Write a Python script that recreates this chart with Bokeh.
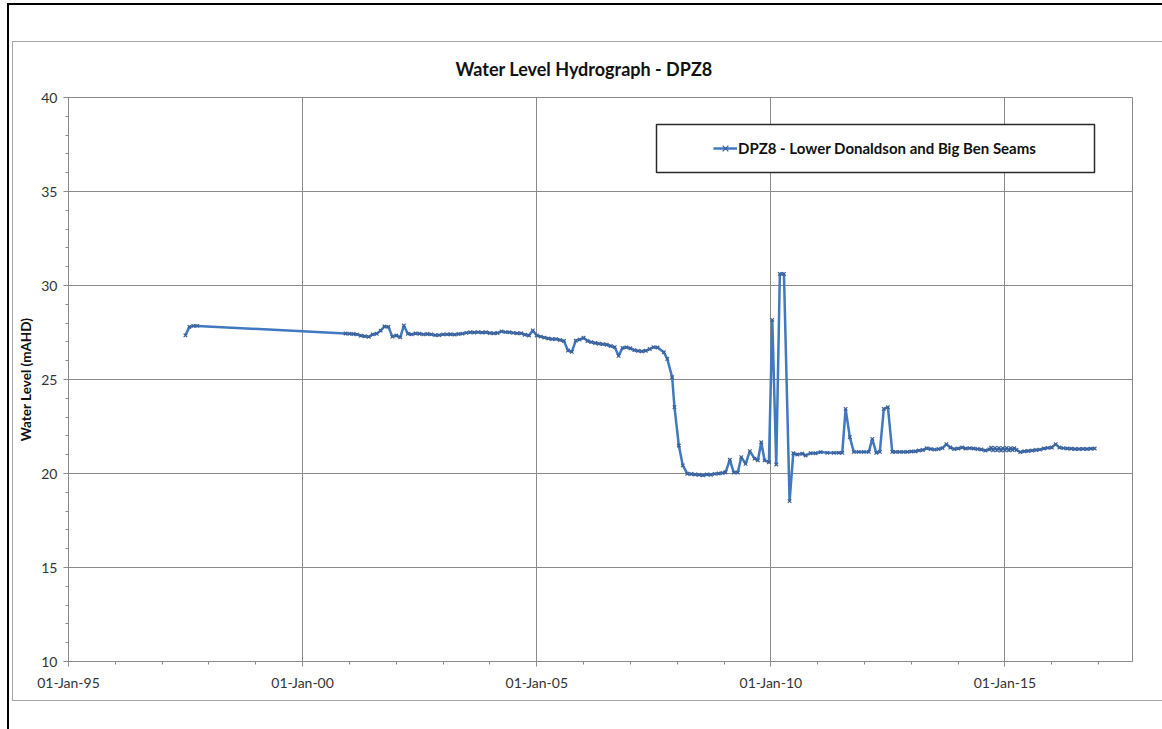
import pandas as pd
from bokeh.plotting import figure
from bokeh.models import (Range1d, FixedTicker, DatetimeTickFormatter, BoxAnnotation,
                          Legend, LegendItem, ColumnDataSource, InlineStyleSheet)
from bokeh.embed import file_html
from bokeh.resources import INLINE

# ---------------- data ----------------
title_text = "Water Level Hydrograph - DPZ8"
series_name = "DPZ8 - Lower Donaldson and Big Ben Seams"
y_title = "Water Level (mAHD)"

dates = [
    "1997-07-01", "1997-08-01", "1997-09-01", "1997-10-01",
    "2000-12-01",
    "2001-01-01", "2001-02-01", "2001-03-01", "2001-04-01", "2001-05-01", "2001-06-01",
    "2001-07-01", "2001-08-01", "2001-09-01", "2001-10-01", "2001-11-01", "2001-12-01",
    "2002-01-01", "2002-02-01", "2002-03-01", "2002-04-01", "2002-05-01", "2002-06-01",
    "2002-07-01", "2002-08-01", "2002-09-01", "2002-10-01", "2002-11-01", "2002-12-01",
    "2003-01-01", "2003-02-01", "2003-03-01", "2003-04-01", "2003-05-01", "2003-06-01",
    "2003-07-01", "2003-08-01", "2003-09-01", "2003-10-01", "2003-11-01", "2003-12-01",
    "2004-01-01", "2004-02-01", "2004-03-01", "2004-04-01", "2004-05-01", "2004-06-01",
    "2004-07-01", "2004-08-01", "2004-09-01", "2004-10-01", "2004-11-01", "2004-12-01",
    "2005-01-01", "2005-02-01", "2005-03-01", "2005-04-01", "2005-05-01", "2005-06-01",
    "2005-07-01", "2005-08-01", "2005-09-01", "2005-10-01", "2005-11-01", "2005-12-01",
    "2006-01-01", "2006-02-01", "2006-03-01", "2006-04-01", "2006-05-01", "2006-06-01",
    "2006-07-01", "2006-08-01", "2006-09-01", "2006-10-01", "2006-11-01", "2006-12-01",
    "2007-01-01", "2007-02-01", "2007-03-01", "2007-04-01", "2007-05-01", "2007-06-01",
    "2007-07-01", "2007-08-01", "2007-09-19", "2007-10-16", "2007-11-23", "2007-12-11",
    "2008-01-14", "2008-02-14", "2008-03-20", "2008-04-20", "2008-05-20", "2008-06-20",
    "2008-07-20", "2008-08-20", "2008-09-20", "2008-10-20", "2008-11-20", "2008-12-20",
    "2009-01-13", "2009-02-15", "2009-03-18", "2009-04-18", "2009-05-15", "2009-06-18",
    "2009-07-21", "2009-08-27", "2009-09-22", "2009-10-18", "2009-11-13", "2009-12-17",
    "2010-01-12", "2010-02-12", "2010-03-12", "2010-04-13", "2010-05-27", "2010-06-25",
    "2010-07-26", "2010-09-03", "2010-09-29", "2010-11-07", "2010-12-16",
    "2011-01-24", "2011-03-17", "2011-05-07", "2011-06-15", "2011-07-12", "2011-08-07",
    "2011-09-09", "2011-10-10", "2011-11-18", "2011-12-27",
    "2012-02-04", "2012-03-02", "2012-04-02", "2012-04-30", "2012-05-31", "2012-07-02",
    "2012-08-05", "2012-09-01", "2012-10-01", "2012-11-01", "2012-12-01",
    "2013-01-01", "2013-02-01", "2013-03-01", "2013-04-01", "2013-05-01", "2013-06-01",
    "2013-07-01", "2013-08-01", "2013-09-01", "2013-10-01", "2013-11-01", "2013-12-01",
    "2014-01-01", "2014-02-01", "2014-03-01", "2014-04-01", "2014-05-01", "2014-06-01",
    "2014-07-01", "2014-08-01", "2014-09-01", "2014-09-15", "2014-10-01", "2014-10-15",
    "2014-11-01", "2014-11-15", "2014-12-01", "2014-12-15",
    "2015-01-01", "2015-01-15", "2015-02-01", "2015-02-15", "2015-03-01", "2015-03-15",
    "2015-04-01", "2015-05-01", "2015-06-01",
    "2015-07-01", "2015-08-01", "2015-09-01", "2015-10-01", "2015-11-01", "2015-12-01",
    "2016-01-01", "2016-02-01", "2016-03-01", "2016-04-01", "2016-05-01", "2016-06-01",
    "2016-07-01", "2016-08-01", "2016-09-01", "2016-10-01", "2016-11-01", "2016-12-01",
]

levels = [
    27.35, 27.80, 27.85, 27.85,
    27.45,
    27.43, 27.42, 27.40, 27.33, 27.30, 27.27,
    27.40, 27.43, 27.60, 27.82, 27.80, 27.28,
    27.34, 27.24, 27.87, 27.43, 27.40, 27.45,
    27.43, 27.40, 27.42, 27.40, 27.36, 27.36,
    27.40, 27.40, 27.41, 27.39, 27.42, 27.44,
    27.48, 27.51, 27.50, 27.52, 27.50, 27.51,
    27.47, 27.46, 27.47, 27.56, 27.52, 27.51,
    27.48, 27.46, 27.46, 27.38, 27.34, 27.61,
    27.34, 27.28, 27.23, 27.18, 27.15, 27.15,
    27.10, 27.05, 26.54, 26.47, 27.07, 27.12,
    27.22, 27.05, 26.99, 26.94, 26.90, 26.88,
    26.85, 26.78, 26.72, 26.26, 26.68, 26.71,
    26.66, 26.56, 26.52, 26.50, 26.53, 26.62,
    26.72, 26.70, 26.45, 26.10, 25.12, 23.53,
    21.49, 20.43, 19.99, 19.97, 19.95, 19.93,
    19.90, 19.95, 19.93, 19.98, 20.00, 20.03,
    20.07, 20.73, 20.05, 20.05, 20.87, 20.51,
    21.19, 20.79, 20.70, 21.66, 20.70, 20.60,
    28.17, 20.48, 30.62, 30.62, 18.53, 21.08,
    21.01, 21.05, 20.96, 21.08, 21.08,
    21.14, 21.10, 21.10, 21.10, 21.10, 23.44,
    21.93, 21.15, 21.15, 21.15,
    21.15, 21.84, 21.10, 21.15, 23.44, 23.53,
    21.15, 21.15, 21.15, 21.15, 21.15,
    21.17, 21.18, 21.22, 21.25, 21.34, 21.30,
    21.27, 21.30, 21.35, 21.56, 21.38, 21.30,
    21.33, 21.38, 21.33, 21.35, 21.33, 21.30,
    21.28, 21.22, 21.28, 21.37, 21.24, 21.36,
    21.23, 21.36, 21.22, 21.35,
    21.24, 21.36, 21.23, 21.35, 21.25, 21.34,
    21.25, 21.14, 21.18,
    21.20, 21.22, 21.25, 21.27, 21.33, 21.36,
    21.38, 21.56, 21.38, 21.35, 21.33, 21.32,
    21.30, 21.30, 21.31, 21.30, 21.32, 21.33,
]

x_start = "1995-01-01"
x_end = "2017-09-22"
major_years = [1995, 2000, 2005, 2010, 2015]
minor_years = list(range(1995, 2018))
y_major = [10, 15, 20, 25, 30, 35, 40]
y_minor = list(range(10, 41))

# ---------------- styles ----------------
FONT = "Lato"
GRID = "#8a8a8a"
LINE = "#4079c0"
MARK = "#3b5f96"


def ms(s):
    return pd.Timestamp(s).value / 1e6


src = ColumnDataSource(dict(x=pd.to_datetime(dates), y=levels))

W, H = 1146, 713
p = figure(width=W, height=H, x_axis_type="datetime",
           x_range=Range1d(ms(x_start), ms(x_end)), y_range=Range1d(10, 40),
           output_backend="svg", toolbar_location=None,
           min_border_left=68, min_border_right=14, min_border_top=97, min_border_bottom=52)

p.background_fill_color = "white"
p.border_fill_color = "white"
p.outline_line_color = GRID
p.outline_line_width = 1

# title
p.title.text = title_text
p.title.align = "left"
p.title.offset = 387
p.title.standoff = 35
p.title.text_font = FONT
p.title.text_font_style = "bold"
p.title.text_font_size = "18px"
p.title.text_color = "#111111"

# axes
p.xaxis.ticker = FixedTicker(ticks=[ms(f"{y}-01-01") for y in major_years],
                             minor_ticks=[ms(f"{y}-01-01") for y in minor_years])
fmt = "%d-%b-%y"
p.xaxis.formatter = DatetimeTickFormatter(years=fmt, months=fmt, days=fmt, hours=fmt,
                                          hourmin=fmt, minutes=fmt, minsec=fmt,
                                          seconds=fmt, milliseconds=fmt, microseconds=fmt)
p.yaxis.ticker = FixedTicker(ticks=y_major, minor_ticks=y_minor)

for ax in (p.xaxis[0], p.yaxis[0]):
    ax.axis_line_color = GRID
    ax.major_tick_line_color = GRID
    ax.minor_tick_line_color = GRID
    ax.major_tick_in = 0
    ax.major_tick_out = 5
    ax.minor_tick_in = 0
    ax.minor_tick_out = 3
    ax.major_label_text_font = FONT
    ax.major_label_text_font_size = "14px"
    ax.major_label_text_color = "#333333"

p.xaxis.major_label_standoff = 7
p.yaxis.major_label_standoff = 6
p.yaxis.axis_label = y_title
p.yaxis.axis_label_text_font = FONT
p.yaxis.axis_label_text_font_style = "bold"
p.yaxis.axis_label_text_font_size = "13.5px"
p.yaxis.axis_label_text_color = "#111111"
p.yaxis.axis_label_standoff = 4

p.xgrid.grid_line_color = GRID
p.ygrid.grid_line_color = GRID
p.xgrid.grid_line_width = 1
p.ygrid.grid_line_width = 1

# chart-area frame and scanned-page border, drawn as CSS on the figure element
p.stylesheets = [InlineStyleSheet(css="""
:host { position: relative; }
:host::before {
  content: ""; position: absolute; left: 12px; top: 41px; width: 1200px; height: 660px;
  border: 1.5px solid #a6a6a6; box-sizing: border-box; pointer-events: none; z-index: 5;
}
:host::after {
  content: ""; position: absolute; left: 7px; top: 3px; width: 1200px; height: 1000px;
  border-left: 2.5px solid #000; border-top: 2px solid #000; box-sizing: border-box;
  pointer-events: none; z-index: 6;
}
""")]

# data
r_line = p.line("x", "y", source=src, line_color=LINE, line_width=2.5)
r_mark = p.scatter("x", "y", source=src, marker="x", size=5, line_color=MARK, line_width=1.2)

# legend box (canvas pixels) + legend
p.add_layout(BoxAnnotation(left=656, right=1094, top=124, bottom=172,
                           left_units="canvas", right_units="canvas",
                           top_units="canvas", bottom_units="canvas",
                           fill_color="white", fill_alpha=1,
                           line_color="#2a2a2a", line_alpha=1, line_width=1.5))
legend = Legend(items=[LegendItem(label=series_name, renderers=[r_line, r_mark])],
                location=(645, 503), padding=0, margin=0, spacing=0,
                border_line_alpha=0, background_fill_alpha=0,
                glyph_width=24, glyph_height=20, label_standoff=1,
                label_text_font=FONT, label_text_font_style="bold",
                label_text_font_size="15px", label_text_color="#111111")
p.add_layout(legend, "center")

open("out.html", "w").write(file_html(p, INLINE))
